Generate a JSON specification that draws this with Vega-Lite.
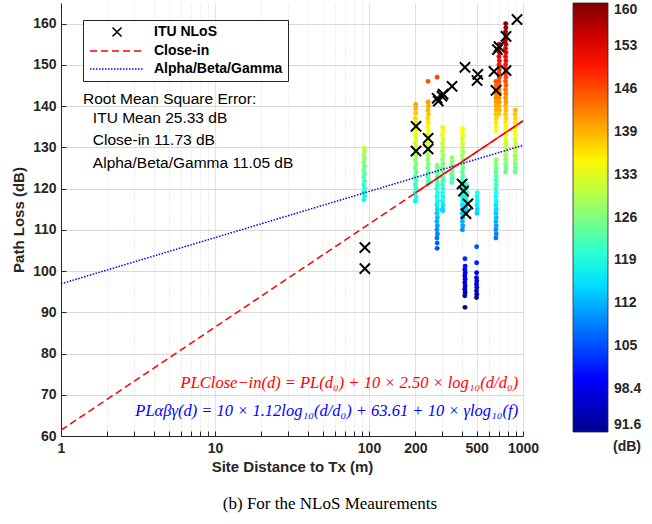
{
  "$schema": "https://vega.github.io/schema/vega-lite/v6.json",
  "width": 462,
  "height": 433,
  "autosize": "none",
  "padding": {"left": 61, "top": 3, "right": 129, "bottom": 88},
  "background": "white",
  "config": {"view": {"stroke": null}, "font": "Liberation Sans"},
  "title": {"text": "(b) For the NLoS Meaurements", "orient": "bottom", "font": "Liberation Serif", "fontSize": 17, "fontWeight": "normal", "color": "#000000", "offset": 22, "dx": 38, "anchor": "middle"},
  "datasets": {
    "pts": [
      {"d":92.5,"pl":117.3},{"d":93.5,"pl":118.2},{"d":92.5,"pl":119.1},{"d":93.5,"pl":120},{"d":92.5,"pl":120.9},{"d":93.5,"pl":121.8},{"d":92.5,"pl":122.7},{"d":93.5,"pl":123.6},{"d":92.5,"pl":124.5},{"d":93.5,"pl":125.4},{"d":92.5,"pl":126.3},{"d":93.5,"pl":127.2},{"d":92.5,"pl":128.1},{"d":93.5,"pl":129},{"d":93,"pl":129.8},
      {"d":200,"pl":117},{"d":202,"pl":118},{"d":200,"pl":119},{"d":202,"pl":120},{"d":200,"pl":121},{"d":202,"pl":122},{"d":200,"pl":123},{"d":202,"pl":124},{"d":200,"pl":125},{"d":202,"pl":126},{"d":200,"pl":127},{"d":202,"pl":128},{"d":200,"pl":129},{"d":202,"pl":130},{"d":200,"pl":131},{"d":202,"pl":132},{"d":200,"pl":133},{"d":202,"pl":134},{"d":200,"pl":135},{"d":202,"pl":136},{"d":200,"pl":137},{"d":201,"pl":138.3},{"d":201,"pl":139.4},{"d":201,"pl":140.4},
      {"d":241,"pl":121},{"d":243,"pl":122},{"d":241,"pl":123},{"d":243,"pl":124},{"d":241,"pl":125},{"d":243,"pl":126},{"d":241,"pl":127},{"d":243,"pl":128},{"d":241,"pl":129},{"d":243,"pl":130},{"d":241,"pl":131},{"d":243,"pl":132},{"d":241,"pl":133},{"d":243,"pl":134},{"d":241,"pl":135},{"d":243,"pl":136},{"d":241,"pl":137},{"d":243,"pl":138},{"d":241,"pl":139},{"d":243,"pl":140},{"d":242,"pl":141},{"d":242,"pl":146},{"d":277,"pl":147},
      {"d":277,"pl":105.5},{"d":277,"pl":106.8},{"d":276,"pl":108},{"d":278,"pl":109},{"d":276,"pl":110},{"d":278,"pl":111},{"d":276,"pl":112},{"d":278,"pl":113},{"d":276,"pl":114},{"d":278,"pl":115},{"d":276,"pl":116},{"d":278,"pl":117},{"d":276,"pl":118},{"d":278,"pl":119},{"d":276,"pl":120},{"d":278,"pl":121},{"d":276,"pl":122},{"d":278,"pl":123},{"d":276,"pl":124},{"d":278,"pl":125},{"d":277,"pl":125.6},
      {"d":301,"pl":114.6},{"d":300,"pl":115},{"d":302,"pl":116},{"d":300,"pl":117},{"d":302,"pl":118},{"d":300,"pl":119},{"d":302,"pl":120},{"d":300,"pl":121},{"d":302,"pl":122},{"d":300,"pl":123},{"d":302,"pl":124},{"d":300,"pl":125},{"d":302,"pl":126},{"d":300,"pl":127},{"d":302,"pl":128},{"d":300,"pl":129},{"d":302,"pl":130},{"d":300,"pl":131},{"d":302,"pl":132},{"d":300,"pl":133},{"d":302,"pl":134},{"d":301,"pl":134.9},
      {"d":345,"pl":121.5},{"d":347,"pl":122.5},{"d":345,"pl":123.5},{"d":347,"pl":124.5},{"d":345,"pl":125.5},{"d":347,"pl":126.5},{"d":346,"pl":127.5},
      {"d":404,"pl":110},{"d":406,"pl":111},{"d":404,"pl":112},{"d":406,"pl":113},{"d":404,"pl":114},{"d":406,"pl":115},{"d":404,"pl":116},{"d":406,"pl":117},{"d":404,"pl":118},{"d":406,"pl":119},{"d":404,"pl":120},{"d":406,"pl":121},{"d":404,"pl":122},{"d":406,"pl":123},{"d":404,"pl":124},{"d":406,"pl":125},{"d":404,"pl":126},{"d":406,"pl":127},{"d":404,"pl":128},{"d":406,"pl":129},{"d":404,"pl":130},{"d":406,"pl":131},{"d":404,"pl":132},{"d":406,"pl":133},{"d":404,"pl":134},{"d":405,"pl":134.6},
      {"d":427,"pl":114},{"d":429,"pl":115},{"d":427,"pl":116},{"d":429,"pl":117},{"d":427,"pl":118},{"d":429,"pl":119},{"d":427,"pl":120},{"d":429,"pl":121},
      {"d":420,"pl":91.2},{"d":419,"pl":94},{"d":421,"pl":94.8},{"d":419,"pl":95.6},{"d":421,"pl":96.4},{"d":419,"pl":97.2},{"d":421,"pl":98},{"d":419,"pl":98.8},{"d":421,"pl":99.6},{"d":419,"pl":100.4},{"d":421,"pl":101.2},{"d":420,"pl":103},
      {"d":499,"pl":93.6},{"d":501,"pl":94.4},{"d":499,"pl":95.2},{"d":501,"pl":96},{"d":499,"pl":96.8},{"d":501,"pl":97.6},{"d":499,"pl":98.4},{"d":500,"pl":99.6},{"d":500,"pl":102},{"d":500,"pl":105.9},
      {"d":503,"pl":114},{"d":505,"pl":115},{"d":503,"pl":116},{"d":505,"pl":117},{"d":503,"pl":118},{"d":505,"pl":119},
      {"d":667,"pl":108},{"d":670,"pl":109},{"d":667,"pl":110},{"d":670,"pl":111},{"d":667,"pl":112},{"d":670,"pl":113},{"d":667,"pl":114},{"d":670,"pl":115},{"d":667,"pl":116},{"d":670,"pl":117},{"d":667,"pl":118},{"d":670,"pl":119},{"d":667,"pl":120},{"d":670,"pl":121},{"d":667,"pl":122},{"d":670,"pl":123},{"d":667,"pl":124},{"d":670,"pl":125},{"d":667,"pl":126},{"d":670,"pl":127},
      {"d":667,"pl":134},{"d":670,"pl":135},{"d":667,"pl":136},{"d":670,"pl":137},{"d":667,"pl":138},{"d":670,"pl":139},{"d":667,"pl":140},{"d":670,"pl":141},{"d":667,"pl":142},{"d":670,"pl":143},{"d":667,"pl":144},{"d":670,"pl":145},{"d":667,"pl":146},
      {"d":698,"pl":138},{"d":702,"pl":139},{"d":698,"pl":140},{"d":702,"pl":141},{"d":698,"pl":142},{"d":702,"pl":143},{"d":698,"pl":144},{"d":702,"pl":145},{"d":698,"pl":146},{"d":702,"pl":147},{"d":698,"pl":148},{"d":702,"pl":149},{"d":698,"pl":150},{"d":702,"pl":151},{"d":698,"pl":152},{"d":702,"pl":153},{"d":698,"pl":154},{"d":702,"pl":155},
      {"d":770,"pl":124},{"d":774,"pl":125},{"d":770,"pl":126},{"d":774,"pl":127},{"d":770,"pl":128},{"d":774,"pl":129},{"d":770,"pl":130},{"d":774,"pl":131},{"d":770,"pl":132},{"d":774,"pl":133},{"d":770,"pl":134},{"d":774,"pl":135},{"d":770,"pl":136},{"d":774,"pl":137},{"d":770,"pl":138},{"d":774,"pl":139},{"d":770,"pl":140},{"d":774,"pl":141},{"d":770,"pl":142},{"d":774,"pl":143},{"d":770,"pl":144},{"d":774,"pl":145},{"d":770,"pl":146},{"d":774,"pl":147},{"d":770,"pl":148},{"d":774,"pl":149},{"d":770,"pl":150},{"d":774,"pl":151},{"d":770,"pl":152},{"d":774,"pl":153},{"d":770,"pl":154},{"d":774,"pl":155},{"d":770,"pl":156},{"d":774,"pl":157},{"d":770,"pl":158},{"d":774,"pl":159},{"d":772,"pl":160},
      {"d":888,"pl":124},{"d":892,"pl":125},{"d":888,"pl":126},{"d":892,"pl":127},{"d":888,"pl":128},{"d":892,"pl":129},{"d":888,"pl":130},{"d":892,"pl":131},{"d":888,"pl":132},{"d":892,"pl":133},{"d":888,"pl":134},{"d":892,"pl":135},{"d":888,"pl":136},{"d":892,"pl":137},{"d":888,"pl":138},{"d":892,"pl":139}
    ],
    "itu": [
      {"series":"ITU NLoS","d":94,"pl":105.7},{"series":"ITU NLoS","d":94,"pl":100.6},
      {"series":"ITU NLoS","d":202,"pl":135.1},{"series":"ITU NLoS","d":202,"pl":129.1},
      {"series":"ITU NLoS","d":242,"pl":132.2},{"series":"ITU NLoS","d":242,"pl":129.6},
      {"series":"ITU NLoS","d":277,"pl":141.9},{"series":"ITU NLoS","d":282,"pl":141.2},{"series":"ITU NLoS","d":298,"pl":142.4},{"series":"ITU NLoS","d":303,"pl":142.9},{"series":"ITU NLoS","d":346,"pl":144.8},
      {"series":"ITU NLoS","d":420,"pl":149.4},{"series":"ITU NLoS","d":509,"pl":147.7},{"series":"ITU NLoS","d":503,"pl":146.2},
      {"series":"ITU NLoS","d":648,"pl":148.4},{"series":"ITU NLoS","d":668,"pl":143.8},{"series":"ITU NLoS","d":682,"pl":153.7},{"series":"ITU NLoS","d":699,"pl":154.4},
      {"series":"ITU NLoS","d":776,"pl":156.9},{"series":"ITU NLoS","d":776,"pl":148.6},{"series":"ITU NLoS","d":914,"pl":161},
      {"series":"ITU NLoS","d":402,"pl":121.1},{"series":"ITU NLoS","d":411,"pl":119.4},{"series":"ITU NLoS","d":439,"pl":116.3},{"series":"ITU NLoS","d":426,"pl":113.9}
    ],
    "lines": [
      {"series":"Close-in","d":1,"pl":61.4},{"series":"Close-in","d":1000,"pl":136.4},
      {"series":"Alpha/Beta/Gamma","d":1,"pl":96.9},{"series":"Alpha/Beta/Gamma","d":1000,"pl":130.5}
    ],
    "fit": [
      {"d":200,"pl":118.93},{"d":1000,"pl":136.4}
    ],
    "notes": [
      {"d":1.39,"pl":141.8,"t":"Root Mean Square Error:"},
      {"d":1.61,"pl":137,"t":"ITU Mean 25.33 dB"},
      {"d":1.61,"pl":131.7,"t":"Close-in 11.73 dB"},
      {"d":1.61,"pl":126.3,"t":"Alpha/Beta/Gamma 11.05 dB"}
    ],
    "eqred": [{"d":930,"pl":72.8,"t":"PLClose−in(d) = PL(d₀) + 10 × 2.50 × log₁₀(d/d₀)"}],
    "eqblue": [{"d":930,"pl":66.1,"t":"PLαβγ(d) = 10 × 1.12log₁₀(d/d₀) + 63.61 + 10 × γlog₁₀(f)"}]
  },
  "encoding": {
    "x": {
      "field": "d", "type": "quantitative",
      "scale": {"type": "log", "domain": [1, 1000], "nice": false},
      "axis": {
        "values": [1,2,3,4,5,6,7,8,9,10,20,30,40,50,60,70,80,90,100,200,300,400,500,600,700,800,900,1000],
        "labelExpr": "indexof([1,10,100,200,500,1000], datum.value) >= 0 ? format(datum.value, 'd') : ''",
        "gridDash": {"condition": {"test": "indexof([1,10,100,200,500,1000], datum.value) >= 0", "value": [1, 0]}, "value": [1, 2]},
        "gridColor": "#d9d9d9", "gridWidth": 1,
        "tickSize": -5, "tickColor": "#262626", "domainColor": "#262626", "domainWidth": 1,
        "labelFont": "Liberation Sans", "labelFontSize": 14, "labelFontWeight": "bold", "labelColor": "#262626",
        "labelPadding": 10, "labelOverlap": false, "labelFlush": false,
        "title": "Site Distance to Tx (m)", "titleFont": "Liberation Sans", "titleFontSize": 15, "titleFontWeight": "bold", "titleColor": "#262626", "titlePadding": 4
      }
    },
    "y": {
      "field": "pl", "type": "quantitative",
      "scale": {"domain": [60, 165], "nice": false, "zero": false},
      "axis": {
        "values": [60,70,80,90,100,110,120,130,140,150,160],
        "gridColor": "#d9d9d9", "gridWidth": 1,
        "tickSize": -5, "tickColor": "#262626", "domainColor": "#262626", "domainWidth": 1,
        "labelFont": "Liberation Sans", "labelFontSize": 14, "labelFontWeight": "bold", "labelColor": "#262626",
        "labelPadding": 10, "labelOverlap": false, "labelFlush": false,
        "title": "Path Loss (dB)", "titleFont": "Liberation Sans", "titleFontSize": 15, "titleFontWeight": "bold", "titleColor": "#262626", "titlePadding": 6
      }
    }
  },
  "layer": [
    {
      "data": {"name": "pts"},
      "mark": {"type": "circle", "size": 24, "opacity": 1},
      "encoding": {
        "fill": {
          "field": "pl", "type": "quantitative",
          "scale": {"domain": [91.6, 100.15, 117.25, 134.35, 151.45, 160], "range": ["#00008f", "#0000ff", "#00ffff", "#ffff00", "#ff0000", "#800000"], "interpolate": "rgb"},
          "legend": {
            "title": "(dB)", "orient": "none", "legendX": 512, "legendY": 0, "direction": "vertical",
            "gradientLength": 429, "gradientThickness": 35,
            "values": [91.6, 98.44, 105.28, 112.12, 118.96, 125.8, 132.64, 139.48, 146.32, 153.16, 160],
            "labelExpr": "datum.value < 100 ? format(datum.value, '.1f') : format(datum.value, '.0f')",
            "labelFont": "Liberation Sans", "labelFontWeight": "bold", "labelFontSize": 14, "labelColor": "#262626", "labelOffset": 6, "labelOverlap": false,
            "titleOrient": "bottom", "titleAnchor": "end", "titleFont": "Liberation Sans", "titleFontWeight": "bold", "titleFontSize": 14, "titleColor": "#262626", "titlePadding": 8,
            "gradientStrokeColor": "#262626", "gradientStrokeWidth": 0.8,
            "encode": {"labels": {"update": {"baseline": {"value": "middle"}}}}
          }
        }
      }
    },
    {
      "data": {"name": "lines"},
      "mark": {"type": "line", "strokeWidth": 1.5},
      "encoding": {
        "color": {"field": "series", "type": "nominal",
          "scale": {"domain": ["ITU NLoS", "Close-in", "Alpha/Beta/Gamma"], "range": ["#000000", "#ff0000", "#0000ff"]},
          "legend": {
            "title": null, "orient": "none", "legendX": 22, "legendY": 17,
            "symbolSize": 100, "symbolStrokeWidth": 1.5, "symbolOffset": 22,
            "labelFont": "Liberation Sans", "labelFontWeight": "bold", "labelFontSize": 14, "labelColor": "#000000", "labelOffset": 30,
            "fillColor": "white", "strokeColor": "#262626", "padding": 5, "rowPadding": 4
          }
        },
        "strokeDash": {"field": "series", "type": "nominal",
          "scale": {"domain": ["ITU NLoS", "Close-in", "Alpha/Beta/Gamma"], "range": [[1, 0], [7, 4], [1.5, 1.5]]}
        }
      }
    },
    {
      "data": {"name": "fit"},
      "mark": {"type": "line", "strokeWidth": 1.5, "color": "#ff0000"},
      "encoding": {}
    },
    {
      "data": {"name": "itu"},
      "mark": {"type": "point", "filled": false, "strokeWidth": 2, "size": 130, "opacity": 1},
      "encoding": {
        "shape": {"field": "series", "type": "nominal",
          "scale": {"domain": ["ITU NLoS", "Close-in", "Alpha/Beta/Gamma"], "range": ["M-0.9,-0.9L0.9,0.9M-0.9,0.9L0.9,-0.9", "M-5.4,0L5.4,0", "M-5.4,0L5.4,0"]}
        },
        "color": {"field": "series", "type": "nominal"},
        "strokeDash": {"field": "series", "type": "nominal"}
      }
    },
    {
      "data": {"name": "notes"},
      "mark": {"type": "text", "align": "left", "baseline": "middle", "font": "Liberation Sans", "fontSize": 15.5, "color": "#000000"},
      "encoding": {"text": {"field": "t"}}
    },
    {
      "data": {"name": "eqred"},
      "mark": {"type": "text", "align": "right", "baseline": "middle", "font": "Liberation Serif", "fontStyle": "italic", "fontSize": 16.5, "color": "#ff0000"},
      "encoding": {"text": {"field": "t"}}
    },
    {
      "data": {"name": "eqblue"},
      "mark": {"type": "text", "align": "right", "baseline": "middle", "font": "Liberation Serif", "fontStyle": "italic", "fontSize": 16.5, "color": "#0000ff"},
      "encoding": {"text": {"field": "t"}}
    }
  ]
}
